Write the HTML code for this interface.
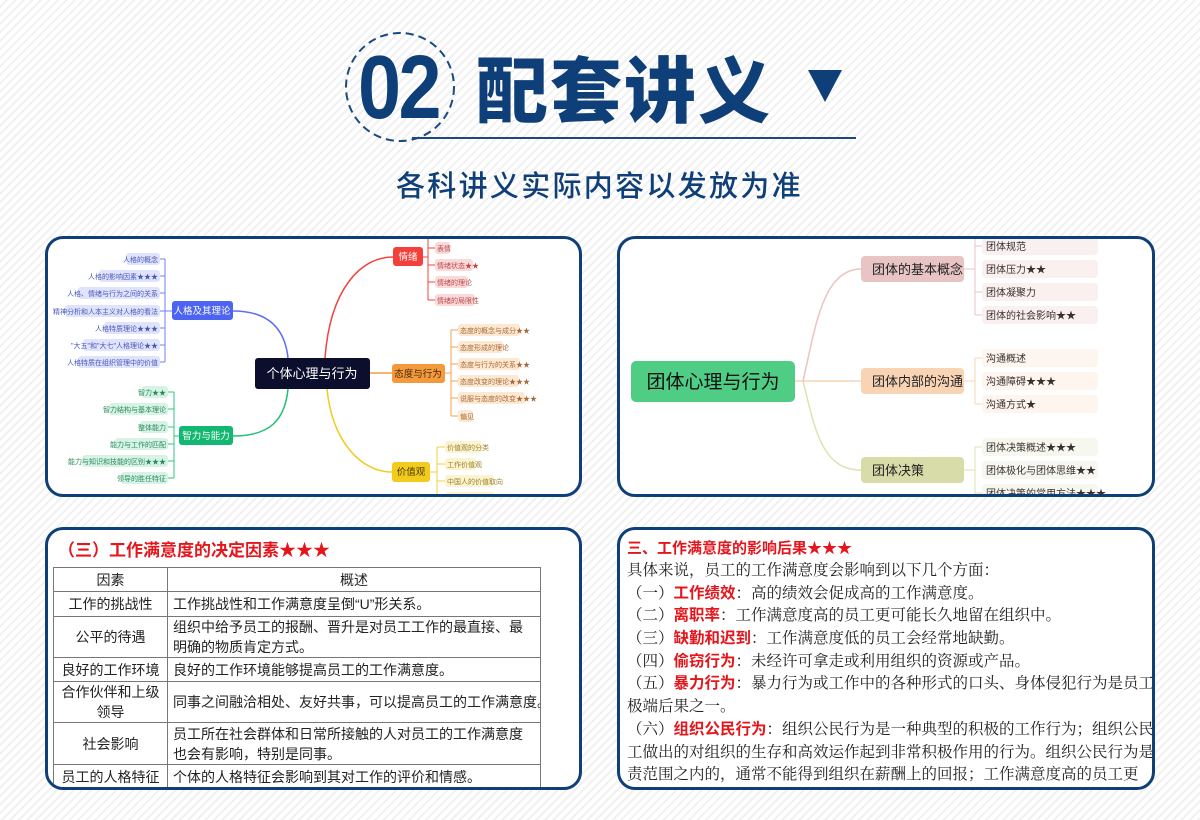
<!DOCTYPE html>
<html><head><meta charset="utf-8"><style>
*{margin:0;padding:0;box-sizing:border-box}
body{width:1200px;height:820px;overflow:hidden;position:relative;font-family:"Liberation Sans","Noto Sans CJK SC",sans-serif;
background:repeating-linear-gradient(135deg,#ffffff 0 4px,#f1f1f1 4px 6px);}
.abs{position:absolute}
.panel{position:absolute;border:3px solid #0e3f7a;border-radius:18px;background:#fff;overflow:hidden}
.serif{font-family:"Liberation Serif","Noto Serif CJK SC",serif}
table{border-collapse:collapse;table-layout:fixed;font-family:"Liberation Sans","Noto Sans CJK SC",sans-serif;font-size:14px;color:#222}
td{border:1px solid #777;padding:0 5px;line-height:20px;overflow:hidden}
.p4 div{white-space:nowrap;height:22.7px;line-height:22.7px;font-size:15.5px;color:#222}
.r{color:#e4161c;font-weight:bold;font-family:"Liberation Sans","Noto Sans CJK SC",sans-serif}
</style></head><body>
<svg class="abs" style="left:0;top:0" width="1200" height="220">
<circle cx="400" cy="87" r="54" fill="none" stroke="#1b4a80" stroke-width="2" stroke-dasharray="8 5"/>
<line x1="412" y1="138" x2="856" y2="138" stroke="#1b4a80" stroke-width="2"/>
<polygon points="808,70 842,70 825,102" fill="#0f3f78"/>
</svg>
<div class="abs" style="left:358px;top:38px;font-size:90px;font-weight:bold;color:#0f3f78;letter-spacing:-3px;transform:scaleX(0.86);transform-origin:left;line-height:100px;font-family:'Liberation Sans Narrow','Liberation Sans',sans-serif">02</div>
<div class="abs" style="left:476px;top:44px;font-size:72px;font-weight:900;color:#0f3f78;line-height:84px;letter-spacing:2px;font-family:'Noto Sans CJK SC',sans-serif">配套讲义</div>
<div class="abs" style="left:396px;top:164px;font-size:29px;color:#0f3f78;letter-spacing:2.3px;line-height:40px;font-family:'Noto Sans CJK SC',sans-serif;font-weight:500">各科讲义实际内容以发放为准</div>

<div class="panel" style="left:45px;top:236px;width:537px;height:261px"></div>
<svg class="abs" style="left:0;top:0" width="1200" height="820" font-family="Liberation Sans, Noto Sans CJK SC, sans-serif">
<defs><clipPath id="c1"><rect x="48" y="239" width="531" height="255" rx="15"/></clipPath>
<clipPath id="c2"><rect x="620" y="239" width="532" height="255" rx="15"/></clipPath></defs>
<g clip-path="url(#c1)" font-size="7">
<path d="M233,311 C270,311 285,330 288,358" stroke="#5b6ef5" stroke-width="1.5" fill="none"/>
<path d="M233,436 C270,436 285,420 288,389" stroke="#20c07a" stroke-width="1.5" fill="none"/>
<path d="M325,358 C330,290 360,257 393,257" stroke="#f0443e" stroke-width="1.5" fill="none"/>
<path d="M370,373 L392,373" stroke="#f59a40" stroke-width="1.5"/>
<path d="M327,389 C332,440 360,472 392,472" stroke="#f2cb1e" stroke-width="1.5" fill="none"/>
<path d="M172,311 L165,311 M165,259 L165,362 M160,259h5M160,276h5M160,293h5M160,311h5M160,328h5M160,345h5M160,362h5" stroke="#6f80f3" stroke-width="1" fill="none"/>
<g fill="#dfe3fb"><rect x="126" y="253" width="34" height="12" rx="3"/><rect x="99" y="270" width="61" height="12" rx="3"/><rect x="78" y="287" width="82" height="12" rx="3"/><rect x="65" y="305" width="95" height="12" rx="3"/><rect x="104" y="322" width="56" height="12" rx="3"/><rect x="83" y="339" width="77" height="12" rx="3"/><rect x="78" y="356" width="82" height="12" rx="3"/></g>
<g fill="#4b58b8" text-anchor="end"><text x="158" y="262">人格的概念</text><text x="158" y="279">人格的影响因素★★★</text><text x="158" y="296">人格、情绪与行为之间的关系</text><text x="158" y="314">精神分析和人本主义对人格的看法</text><text x="158" y="331">人格特质理论★★★</text><text x="158" y="348">"大五"和"大七"人格理论★★</text><text x="158" y="365">人格特质在组织管理中的价值</text></g>
<rect x="172" y="301" width="61" height="19" rx="3" fill="#4d63f2"/><text x="202" y="314" fill="#fff" font-size="9.5" text-anchor="middle">人格及其理论</text>
<path d="M179,436 L174,436 M174,392 L174,478 M168,392h6M168,409h6M168,427h6M168,444h6M168,461h6M168,478h6" stroke="#2cc484" stroke-width="1" fill="none"/>
<g fill="#d6f3e5"><rect x="142" y="386" width="26" height="12" rx="3"/><rect x="109" y="403" width="59" height="12" rx="3"/><rect x="140" y="421" width="28" height="12" rx="3"/><rect x="115" y="438" width="53" height="12" rx="3"/><rect x="82" y="455" width="86" height="12" rx="3"/><rect x="121" y="472" width="47" height="12" rx="3"/></g>
<g fill="#2b8a5c" text-anchor="end"><text x="166" y="395">智力★★</text><text x="166" y="412">智力结构与基本理论</text><text x="166" y="430">整体能力</text><text x="166" y="447">能力与工作的匹配</text><text x="166" y="464">能力与知识和技能的区别★★★</text><text x="166" y="481">领导的胜任特征</text></g>
<rect x="179" y="426" width="54" height="19" rx="3" fill="#12b872"/><text x="206" y="439" fill="#fff" font-size="9.5" text-anchor="middle">智力与能力</text>
<path d="M423,257 L428,257 M428,236 L428,300 M428,248h7M428,265h7M428,282h7M428,300h7" stroke="#f0443e" stroke-width="1" fill="none"/>
<g fill="#fbd9d9"><rect x="435" y="242" width="15" height="12" rx="3"/><rect x="435" y="259" width="38" height="12" rx="3"/><rect x="435" y="276" width="33" height="12" rx="3"/><rect x="435" y="294" width="40" height="12" rx="3"/></g>
<g fill="#b84a4a"><text x="437" y="251">表情</text><text x="437" y="268">情绪状态★★</text><text x="437" y="285">情绪的理论</text><text x="437" y="303">情绪的局限性</text></g>
<rect x="393" y="247" width="30" height="19" rx="3" fill="#f4403a"/><text x="408" y="260" fill="#fff" font-size="9.5" text-anchor="middle">情绪</text>
<path d="M445,373 L451,373 M451,330 L451,416 M451,330h7M451,347h7M451,364h7M451,381h7M451,398h7M451,416h7" stroke="#f5a050" stroke-width="1" fill="none"/>
<g fill="#fde8d2"><rect x="458" y="324" width="62" height="12" rx="3"/><rect x="458" y="341" width="45" height="12" rx="3"/><rect x="458" y="358" width="62" height="12" rx="3"/><rect x="458" y="375" width="61" height="12" rx="3"/><rect x="458" y="392" width="67" height="12" rx="3"/><rect x="458" y="410" width="15" height="12" rx="3"/></g>
<g fill="#a86a3a"><text x="460" y="333">态度的概念与成分★★</text><text x="460" y="350">态度形成的理论</text><text x="460" y="367">态度与行为的关系★★</text><text x="460" y="384">态度改变的理论★★★</text><text x="460" y="401">说服与态度的改变★★★</text><text x="460" y="419">偏见</text></g>
<rect x="392" y="364" width="53" height="19" rx="3" fill="#f39a3c"/><text x="418" y="377" fill="#4a2a0a" font-size="9.5" text-anchor="middle">态度与行为</text>
<path d="M430,472 L437,472 M437,447 L437,500 M437,447h8M437,464h8M437,481h8M437,497h8" stroke="#f2cf3a" stroke-width="1" fill="none"/>
<g fill="#fcf3cf"><rect x="445" y="441" width="37" height="12" rx="3"/><rect x="445" y="458" width="31" height="12" rx="3"/><rect x="445" y="475" width="49" height="12" rx="3"/><rect x="445" y="492" width="50" height="12" rx="3"/></g>
<g fill="#9a8230"><text x="447" y="450">价值观的分类</text><text x="447" y="467">工作价值观</text><text x="447" y="484">中国人的价值取向</text></g>
<rect x="392" y="462" width="38" height="20" rx="3" fill="#f2cc1c"/><text x="411" y="475" fill="#4a3a00" font-size="9.5" text-anchor="middle">价值观</text>
<rect x="255" y="358" width="115" height="31" rx="3" fill="#0b0e2c"/><text x="312" y="378" fill="#fff" font-size="13" text-anchor="middle">个体心理与行为</text>
</g>
</svg>

<div class="panel" style="left:617px;top:236px;width:538px;height:261px"></div>
<svg class="abs" style="left:0;top:0" width="1200" height="820" font-family="Liberation Sans, Noto Sans CJK SC, sans-serif">
<g clip-path="url(#c2)">
<path d="M795,381 L861,381" stroke="#f8d4b4" stroke-width="1.5"/>
<path d="M803,381 C815,330 822,269 861,269" stroke="#ebc3c3" stroke-width="1.5" fill="none"/>
<path d="M803,381 C815,430 822,470 861,470" stroke="#dfe2b0" stroke-width="1.5" fill="none"/>
<path d="M964,269 H975 M975,238 V315 M975,246h7M975,292h7M975,315h7" stroke="#ebc3c3" stroke-width="1" fill="none"/>
<path d="M964,381 H975 M975,358 V404 M975,358h7M975,404h7" stroke="#f8d4b4" stroke-width="1" fill="none"/>
<path d="M964,470 H975 M975,447 V500 M975,447h7M975,493h7" stroke="#dfe2b0" stroke-width="1" fill="none"/>
<g fill="#fbf0f0"><rect x="982" y="237" width="116" height="18" rx="4"/><rect x="982" y="260" width="116" height="18" rx="4"/><rect x="982" y="283" width="116" height="18" rx="4"/><rect x="982" y="306" width="116" height="18" rx="4"/></g>
<g fill="#fdf5ee"><rect x="982" y="349" width="116" height="18" rx="4"/><rect x="982" y="372" width="116" height="18" rx="4"/><rect x="982" y="395" width="116" height="18" rx="4"/></g>
<g fill="#f6f7ee"><rect x="982" y="438" width="116" height="18" rx="4"/><rect x="982" y="461" width="116" height="18" rx="4"/><rect x="982" y="484" width="116" height="18" rx="4"/></g>
<g fill="#3a3030" font-size="10"><text x="986" y="250">团体规范</text><text x="986" y="273">团体压力★★</text><text x="986" y="296">团体凝聚力</text><text x="986" y="319">团体的社会影响★★</text>
<text x="986" y="362">沟通概述</text><text x="986" y="385">沟通障碍★★★</text><text x="986" y="408">沟通方式★</text>
<text x="986" y="451">团体决策概述★★★</text><text x="986" y="474">团体极化与团体思维★★</text><text x="986" y="497">团体决策的常用方法★★★</text></g>
<rect x="861" y="256" width="103" height="26" rx="4" fill="#e8c4c4"/><text x="872" y="274" font-size="13" fill="#222">团体的基本概念</text>
<rect x="861" y="368" width="103" height="26" rx="4" fill="#f8d4b4"/><text x="872" y="386" font-size="13" fill="#222">团体内部的沟通</text>
<rect x="861" y="457" width="103" height="26" rx="4" fill="#d8dca8"/><text x="872" y="475" font-size="13" fill="#222">团体决策</text>
<rect x="631" y="361" width="164" height="41" rx="5" fill="#4fcd85"/><text x="713" y="388" font-size="19" fill="#111" text-anchor="middle">团体心理与行为</text>
</g></svg>

<div class="panel" style="left:45px;top:527px;width:537px;height:263px">
<div class="abs" style="left:10px;top:8px;font-size:17px;font-weight:bold;color:#e4161c;line-height:22px;font-family:'Noto Sans CJK SC',sans-serif">（三）工作满意度的决定因素★★★</div>
<table class="abs" style="left:5px;top:37px;width:487px">
<colgroup><col style="width:114px"><col style="width:373px"></colgroup>
<tr style="height:24px"><td style="text-align:center">因素</td><td style="text-align:center">概述</td></tr>
<tr style="height:25px"><td style="text-align:center">工作的挑战性</td><td>工作挑战性和工作满意度呈倒“U”形关系。</td></tr>
<tr style="height:41px"><td style="text-align:center">公平的待遇</td><td>组织中给予员工的报酬、晋升是对员工工作的最直接、最明确的物质肯定方式。</td></tr>
<tr style="height:24px"><td style="text-align:center;white-space:nowrap;padding:0 2px">良好的工作环境</td><td>良好的工作环境能够提高员工的工作满意度。</td></tr>
<tr style="height:41px"><td style="text-align:center">合作伙伴和上级领导</td><td style="white-space:nowrap">同事之间融洽相处、友好共事，可以提高员工的工作满意度。</td></tr>
<tr style="height:42px"><td style="text-align:center">社会影响</td><td>员工所在社会群体和日常所接触的人对员工的工作满意度也会有影响，特别是同事。</td></tr>
<tr style="height:24px"><td style="text-align:center;white-space:nowrap;padding:0 2px">员工的人格特征</td><td>个体的人格特征会影响到其对工作的评价和情感。</td></tr>
</table>
</div>

<div class="panel p4" style="left:617px;top:527px;width:538px;height:263px">
<div class="abs" style="left:7px;top:8px;width:600px">
<div class="r" style="font-size:15px;height:22px;line-height:22px;color:#e4161c">三、工作满意度的影响后果★★★</div>
<div class="serif">具体来说，员工的工作满意度会影响到以下几个方面：</div>
<div class="serif">（一）<span class="r">工作绩效</span>：高的绩效会促成高的工作满意度。</div>
<div class="serif">（二）<span class="r">离职率</span>：工作满意度高的员工更可能长久地留在组织中。</div>
<div class="serif">（三）<span class="r">缺勤和迟到</span>：工作满意度低的员工会经常地缺勤。</div>
<div class="serif">（四）<span class="r">偷窃行为</span>：未经许可拿走或利用组织的资源或产品。</div>
<div class="serif">（五）<span class="r">暴力行为</span>：暴力行为或工作中的各种形式的口头、身体侵犯行为是员工</div>
<div class="serif">极端后果之一。</div>
<div class="serif">（六）<span class="r">组织公民行为</span>：组织公民行为是一种典型的积极的工作行为；组织公民</div>
<div class="serif">工做出的对组织的生存和高效运作起到非常积极作用的行为。组织公民行为是</div>
<div class="serif">责范围之内的，通常不能得到组织在薪酬上的回报；工作满意度高的员工更</div>
</div>
</div>
</body></html>
